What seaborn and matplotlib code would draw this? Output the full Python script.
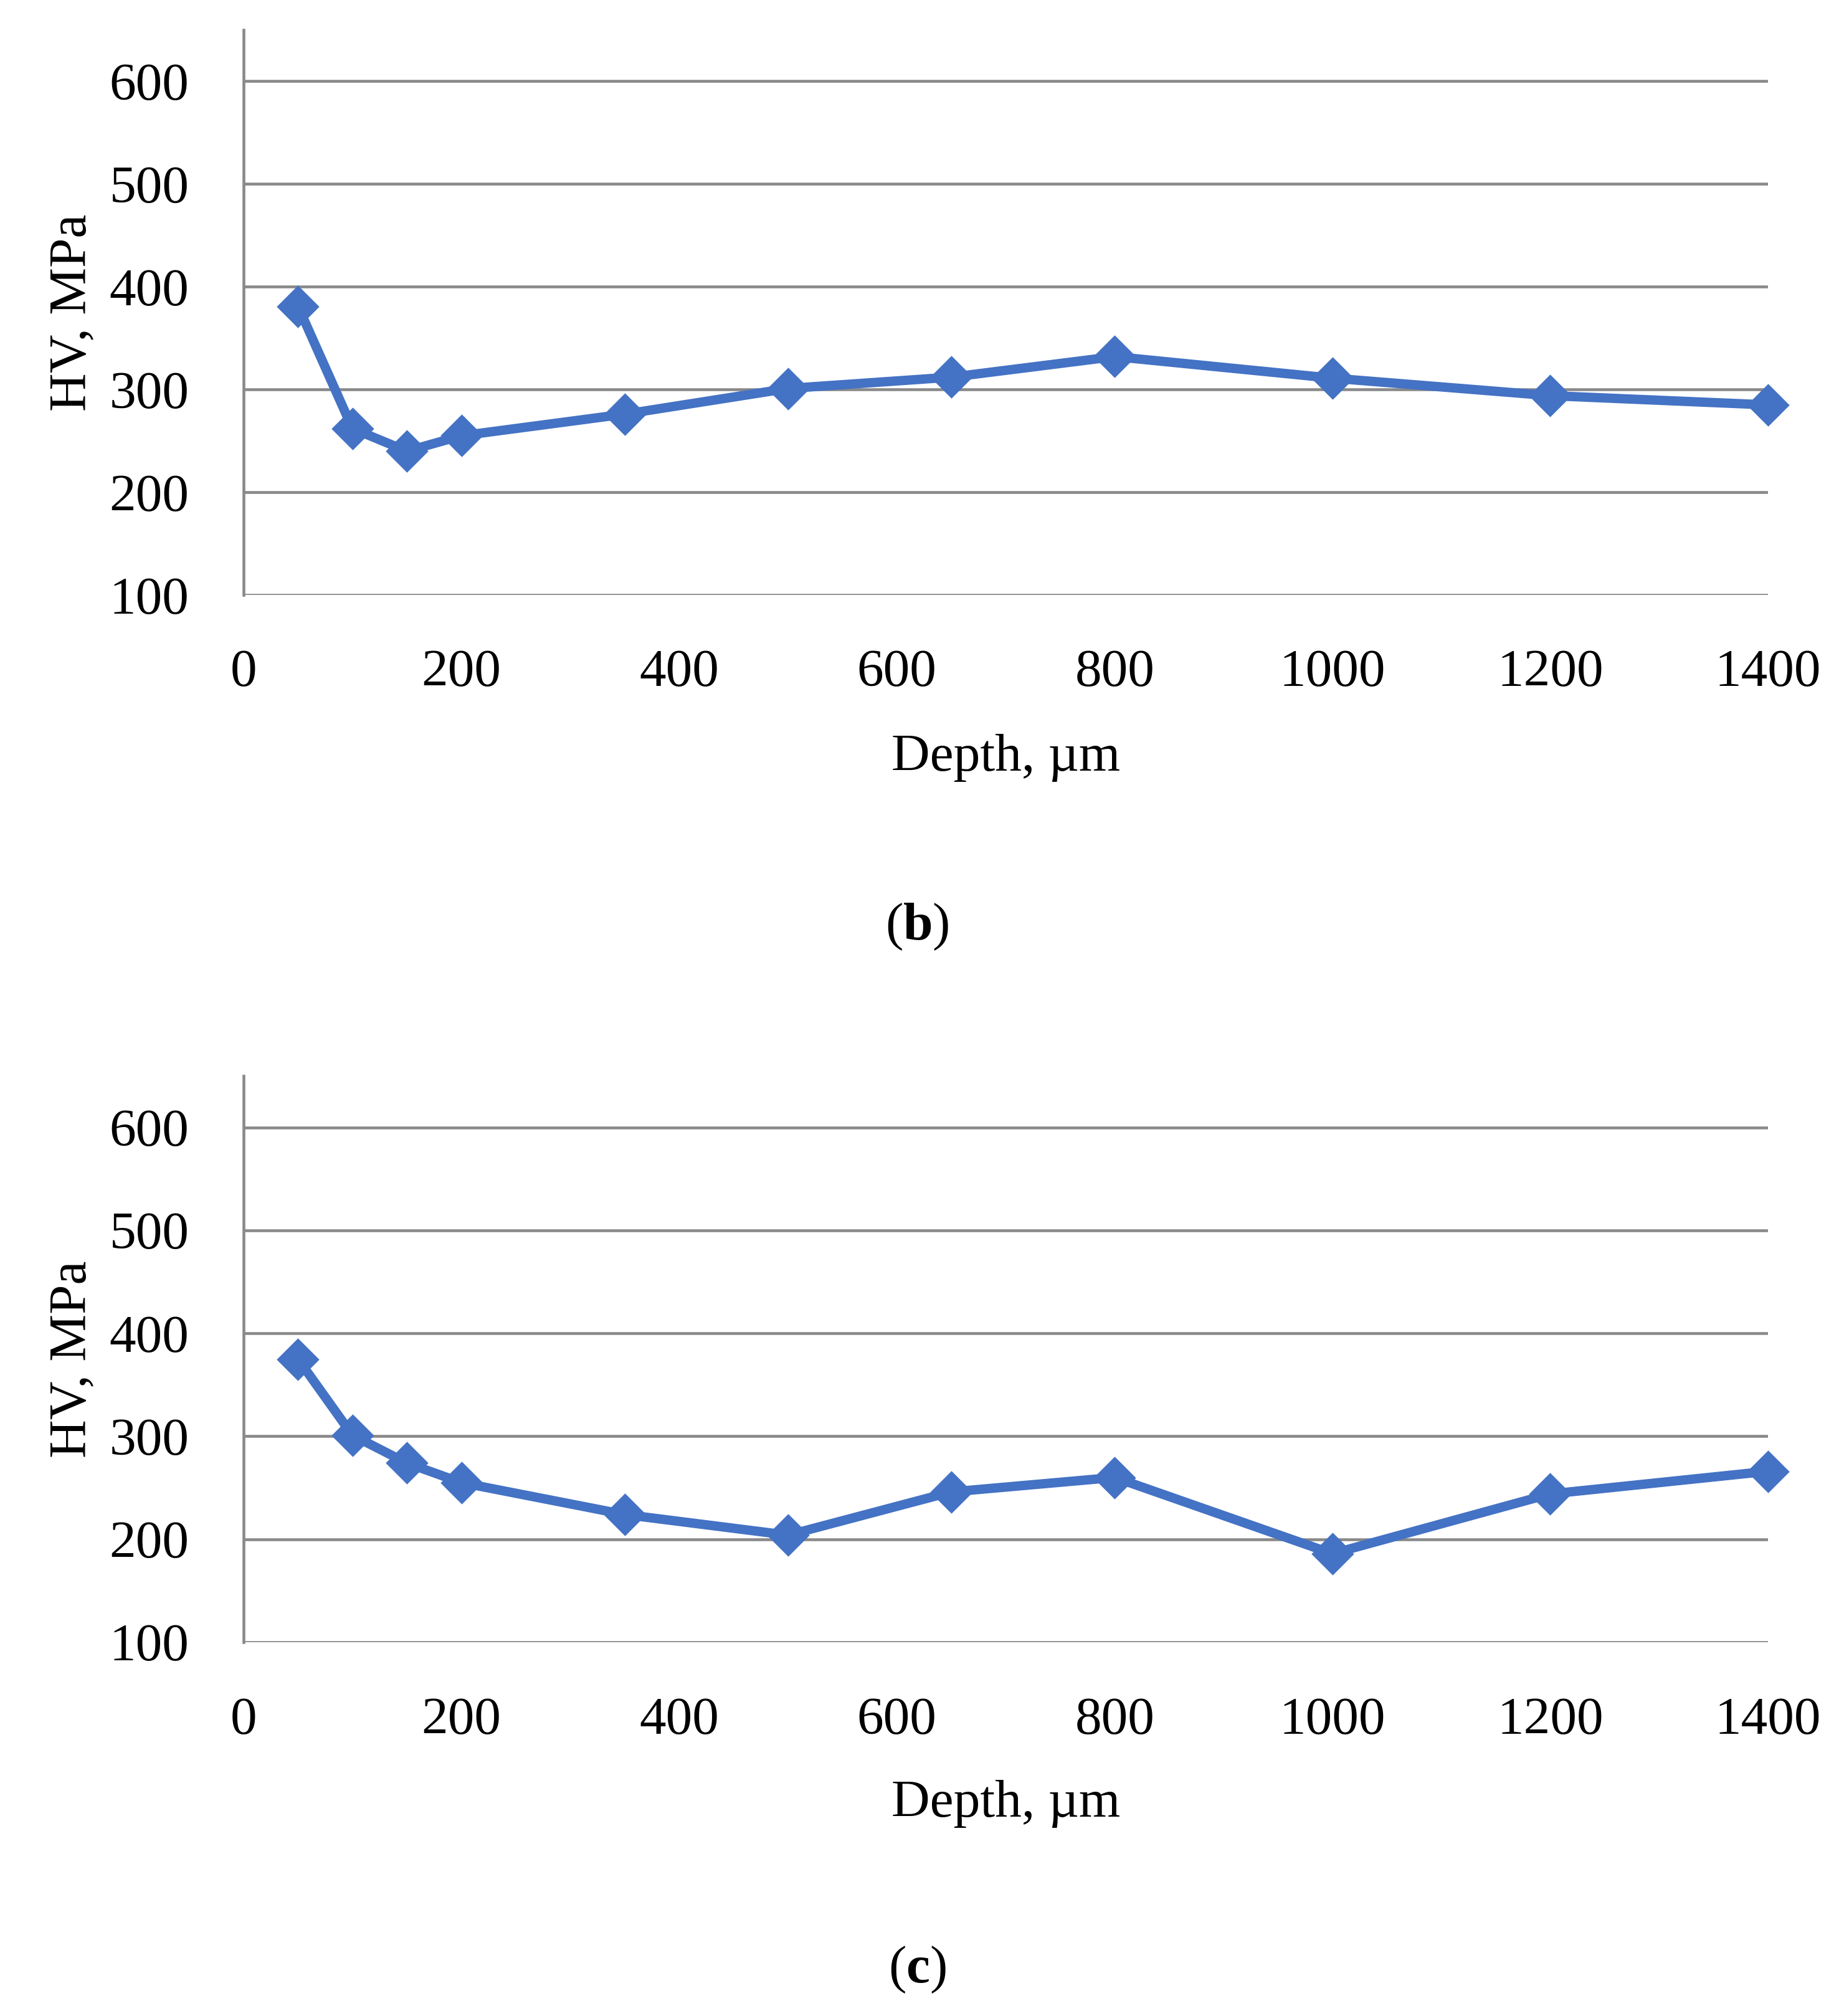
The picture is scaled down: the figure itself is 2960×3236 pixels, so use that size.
import matplotlib
matplotlib.use("Agg")
import matplotlib.pyplot as plt
import seaborn as sns
import pandas as pd

# =========================
# DATA
# =========================
depth = [50, 100, 150, 200, 350, 500, 650, 800, 1000, 1200, 1400]
hv_b = [381, 262, 240, 255, 276, 301, 312, 332, 311, 294, 285]
hv_c = [375, 301, 274, 255, 224, 204, 246, 260, 186, 244, 266]
x_ticks = [0, 200, 400, 600, 800, 1000, 1200, 1400]
y_ticks = [100, 200, 300, 400, 500, 600]
captions = ["b", "c"]

# =========================
# SETTINGS
# =========================
sns.set_style("white")
plt.rcParams["font.family"] = ["Liberation Serif", "DejaVu Serif"]
plt.rcParams["mathtext.fontset"] = "custom"
plt.rcParams["mathtext.rm"] = "Liberation Serif"
plt.rcParams["mathtext.bf"] = "Liberation Serif:bold"
plt.rcParams["text.color"] = "black"
plt.rcParams["axes.labelcolor"] = "black"
plt.rcParams["xtick.color"] = "black"
plt.rcParams["ytick.color"] = "black"

LINE_COLOR = "#4472C4"
GRID_COLOR = "#898989"
FS = 20.5

fig = plt.figure(figsize=(2961 / 300, 3236 / 300), dpi=300)

# axes rectangles in figure fraction: left, bottom, width, height
left = 391 / 2961
width = (2838 - 391) / 2961
rects = [
    [left, 1 - 955 / 3236, width, (955 - 48) / 3236],
    [left, 1 - 2636 / 3236, width, (2636 - 1727) / 3236],
]
xlabel_y = [-0.288, -0.285]
caption_y = [1 - 1488 / 3236, 1 - 3162 / 3236]
caption_x = 1472 / 2961


def draw_panel(rect, values, cap, xl_y, cap_y):
    ax = fig.add_axes(rect)
    df = pd.DataFrame({"Depth": depth, "HV": values})
    sns.lineplot(data=df, x="Depth", y="HV", ax=ax, color=LINE_COLOR,
                 linewidth=3.6, marker="D", markersize=11,
                 markeredgecolor=LINE_COLOR, clip_on=False, zorder=3)
    ax.set_xlim(0, 1400)
    ax.set_ylim(100, 650)
    ax.set_xticks(x_ticks)
    ax.set_yticks(y_ticks)
    ax.tick_params(axis="both", length=0, pad=21, labelsize=FS)
    ax.yaxis.grid(True, color=GRID_COLOR, linewidth=1.1)
    ax.xaxis.grid(False)
    for side in ["top", "right", "bottom"]:
        ax.spines[side].set_visible(False)
    ax.spines["left"].set_color(GRID_COLOR)
    ax.spines["left"].set_linewidth(1.1)
    ax.set_xlabel("Depth, µm", fontsize=FS, va="center")
    ax.set_ylabel("HV, MPa", fontsize=FS, va="center")
    ax.xaxis.set_label_coords(0.5, xl_y)
    ax.yaxis.set_label_coords(-0.112, 0.5)
    fig.text(caption_x, cap_y, r"($\mathbf{%s}$)" % cap,
             fontsize=FS, ha="center", va="center")
    return ax


for i in range(2):
    draw_panel(rects[i], [hv_b, hv_c][i], captions[i], xlabel_y[i], caption_y[i])

fig.savefig("out.png", dpi=300)
